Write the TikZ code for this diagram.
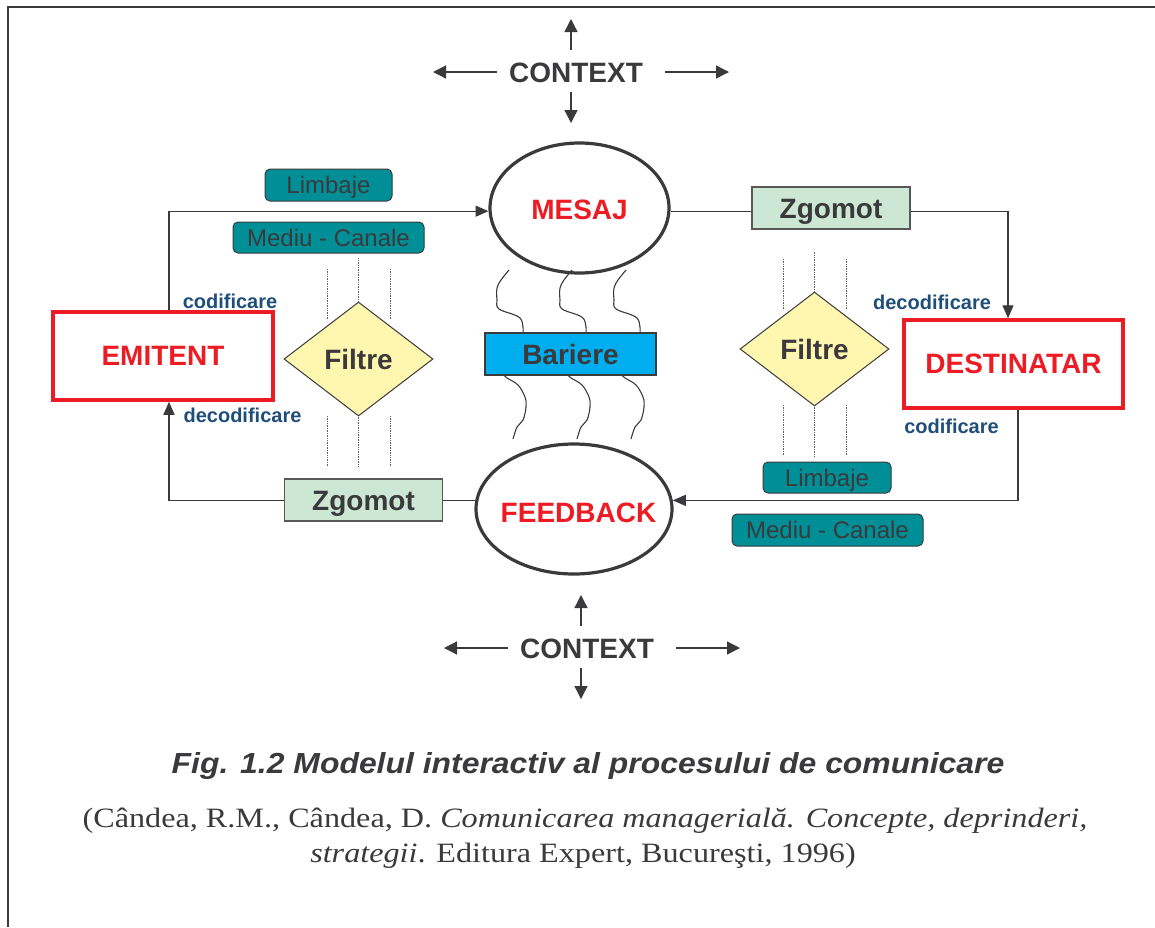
\documentclass[tikz,border=0pt]{standalone}
\usepackage{fontspec}
\setmainfont{Liberation Serif}
\setsansfont{Liberation Sans}
\usetikzlibrary{arrows.meta,shapes.geometric,calc}

\definecolor{ink}{RGB}{58,58,60}
\definecolor{alertred}{RGB}{237,28,36}
\definecolor{tealfill}{RGB}{0,143,150}
\definecolor{noisegreen}{RGB}{204,232,212}
\definecolor{filteryellow}{RGB}{255,246,176}
\definecolor{barrierblue}{RGB}{0,174,239}
\definecolor{labelblue}{RGB}{31,78,121}

\newcommand\pxsize[1]{\fontsize{#1}{#1}\selectfont}

\tikzset{
  conn/.style={draw=ink, line width=1.3pt},
  tip/.style={-{Triangle[length=13pt,width=11pt]}},
  ctxarrow/.style={draw=ink, line width=1.3pt, -{Triangle[length=13pt,width=13pt]}},
  oval/.style={ellipse, draw=ink, line width=3.2pt, fill=white, inner sep=0pt},
  ovaltext/.style={text=alertred, font=\sffamily\bfseries\pxsize{28}, inner sep=0pt},
  party/.style={rectangle, draw=alertred, line width=3.5pt, inner sep=0pt,
    text=alertred, font=\sffamily\bfseries\pxsize{28}},
  tealbox/.style={rectangle, rounded corners=5pt, draw=ink, line width=1pt,
    fill=tealfill, inner sep=0pt, text=ink, font=\sffamily\pxsize{24},
    text height=17pt, text depth=-2pt},
  noisebox/.style={rectangle, draw=ink!85, line width=1.2pt, fill=noisegreen,
    inner sep=0pt, minimum width=158pt, minimum height=42pt, text=ink,
    font=\sffamily\bfseries\pxsize{28}, text height=20pt, text depth=-2pt},
  filterbox/.style={diamond, draw=ink, line width=1pt, fill=filteryellow,
    inner sep=0pt, minimum width=149pt, minimum height=114pt, text=ink,
    font=\sffamily\bfseries\pxsize{28}},
  barrierbox/.style={rectangle, draw=ink, line width=1.2pt, fill=barrierblue,
    inner sep=0pt, minimum width=171pt, minimum height=42pt, text=ink,
    font=\sffamily\bfseries\pxsize{28}},
  codelabel/.style={text=labelblue, font=\sffamily\bfseries\pxsize{20}, inner sep=0pt},
  ctxlabel/.style={text=ink, font=\sffamily\bfseries\pxsize{28}, inner sep=0pt},
  guide/.style={draw=ink!80, line width=0.7pt, densely dotted},
  wave/.style={draw=ink, line width=1.1pt}
}

\begin{document}
\begin{tikzpicture}[x=1pt,y=-1pt]
\useasboundingbox (0,0) rectangle (1155,927);

% page frame
\draw[ink, line width=2pt] (8,927) -- (8,7) -- (1155,7);

% context labels with their four arrows
\node[ctxlabel] (ctxT) at (576,73) {CONTEXT};
\node[ctxlabel] (ctxB) at (587,649) {CONTEXT};
\foreach \c/\dx in {ctxT/-5, ctxB/-6} {
  \draw[ctxarrow] ($(\c)+(\dx,-23)$) -- ++(0,-31);
  \draw[ctxarrow] ($(\c)+(\dx,19)$) -- ++(0,31);
  \draw[ctxarrow] ($(\c)+(-79,-1)$) -- ++(-64,0);
  \draw[ctxarrow] ($(\c)+(89,-1)$) -- ++(64,0);
}

% message and feedback ovals
\node[oval, minimum width=179pt, minimum height=130pt] (mesaj) at (579.5,208) {};
\node[ovaltext] (mesajtxt) at (579.5,210) {MESAJ};
\node[oval, minimum width=196pt, minimum height=130pt] (feedback) at (574,509) {};
\node[ovaltext] (feedbacktxt) at (578.5,513) {FEEDBACK};

% sender and receiver
\node[party, minimum width=220pt, minimum height=88pt] (emitent) at (163,356) {EMITENT};
\node[party, minimum width=219pt, minimum height=88pt] (destinatar) at (1013.5,364) {DESTINATAR};

% channel boxes
\node[tealbox, minimum width=127pt, minimum height=32pt] (limbL) at (328.5,185) {Limbaje};
\node[tealbox, minimum width=191pt, minimum height=31pt] (mediuL) at (328.5,237.5) {Mediu - Canale};
\node[tealbox, minimum width=128pt, minimum height=31pt] (limbR) at (827,477.5) {Limbaje};
\node[tealbox, minimum width=191pt, minimum height=32pt] (mediuR) at (827.5,530) {Mediu - Canale};

% noise boxes
\node[noisebox] (zgT) at (831,208) {Zgomot};
\node[noisebox] (zgB) at (363.5,500) {Zgomot};

% filters with their dotted guides
\node[filterbox] (filtL) at (358.5,359) {Filtre};
\node[filterbox] (filtR) at (814.5,349) {Filtre};
\foreach \x in {327,390} {
  \draw[guide] (\x,269) -- (\x,320);
  \draw[guide] (\x,416) -- (\x,467);
}
\draw[guide] (filtL.north) -- ++(0,-44);
\draw[guide] (filtL.south) -- ++(0,51);
\foreach \x in {783,846} {
  \draw[guide] (\x,259) -- (\x,310);
  \draw[guide] (\x,405) -- (\x,456);
}
\draw[guide] (filtR.north) -- ++(0,-40);
\draw[guide] (filtR.south) -- ++(0,50);

% barriers
\node[barrierbox] (bariere) at (570.5,354) {Bariere};
\foreach \x in {509,572,626} {
  \draw[wave] plot[smooth, tension=0.6] coordinates
    {(\x,270) (\x-8,280) (\x-12,288) (\x-12,300) (\x-10,309) (\x+11,318) (\x+14,333)};
}
\foreach \x in {504,568,622} {
  \draw[wave] plot[smooth, tension=0.6] coordinates
    {(\x,375) (\x+3,378) (\x+14,385) (\x+21,397) (\x+22,407) (\x+19,420) (\x+13,427) (\x+9,439)};
}

% coding labels
\node[codelabel] (codL) at (230,301) {codificare};
\node[codelabel] (decL) at (242.5,415) {decodificare};
\node[codelabel] (decR) at (932,302) {decodificare};
\node[codelabel] (codR) at (951.5,426) {codificare};

% message flow
\draw[conn, tip] ([xshift=6pt]emitent.north) |- (mesaj.182);
\draw[conn] (mesaj.-2) -- (zgT.west |- mesaj.-2);
\draw[conn, tip] (zgT.east |- mesaj.-2) -| ([xshift=-5.5pt]destinatar.north);
% feedback flow
\draw[conn, tip] ([xshift=4.5pt]destinatar.south) |- (feedback.5);
\draw[conn] (feedback.175) -- (zgB.east |- feedback.175);
\draw[conn, tip] (zgB.west |- feedback.175) -| ([xshift=6pt]emitent.south);

% caption and source
\node[text=ink, font=\sffamily\bfseries\itshape\pxsize{29}, inner sep=0pt] (caption) at (588,766)
  {\scalebox{1.1}[1]{Fig. 1.2 Modelul interactiv al procesului de comunicare}};
\node[text=ink, font=\pxsize{28}, inner sep=0pt] (src1) at (585,821)
  {\scalebox{1.15}[1]{(Cândea, R.M., Cândea, D. \textit{Comunicarea managerială. Concepte, deprinderi,}}};
\node[text=ink, font=\pxsize{28}, inner sep=0pt] (src2) at (583,856)
  {\scalebox{1.15}[1]{\textit{strategii}. Editura Expert, Bucureşti, 1996)}};
\end{tikzpicture}
\end{document}
